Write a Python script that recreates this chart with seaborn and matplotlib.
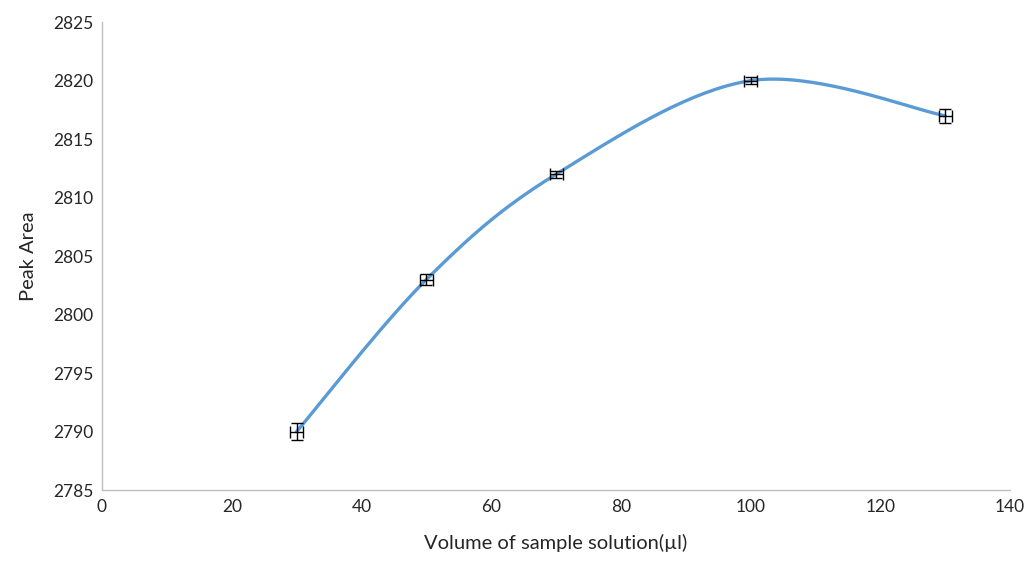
import numpy as np
import pandas as pd
import seaborn as sns
import matplotlib.pyplot as plt

# data
volume = [30, 50, 70, 100, 130]
peak_area = [2790, 2803, 2812, 2820, 2817]
y_err = [0.7, 0.5, 0.3, 0.3, 0.6]
x_err = [1.0, 1.0, 1.0, 1.0, 1.0]

df = pd.DataFrame({'volume': volume, 'peak_area': peak_area})


def excel_smooth(x, y, n=40):
    # Catmull-Rom style bezier like Excel's "smoothed line"
    x = np.asarray(x, float)
    y = np.asarray(y, float)
    px = np.concatenate([[x[0]], x, [x[-1]]])
    py = np.concatenate([[y[0]], y, [y[-1]]])
    xs, ys = [], []
    t = np.linspace(0, 1, n)
    for i in range(1, len(px) - 2):
        p0 = np.array([px[i], py[i]])
        p3 = np.array([px[i + 1], py[i + 1]])
        p1 = p0 + (np.array([px[i + 1], py[i + 1]]) - np.array([px[i - 1], py[i - 1]])) / 6
        p2 = p3 - (np.array([px[i + 2], py[i + 2]]) - np.array([px[i], py[i]])) / 6
        b = ((1 - t) ** 3)[:, None] * p0 + (3 * (1 - t) ** 2 * t)[:, None] * p1 \
            + (3 * (1 - t) * t ** 2)[:, None] * p2 + (t ** 3)[:, None] * p3
        xs.extend(b[:, 0])
        ys.extend(b[:, 1])
    return np.array(xs), np.array(ys)


sns.set_style('white')
plt.rcParams['font.family'] = ['Lato', 'DejaVu Sans']

fig = plt.figure(figsize=(10.25, 5.68), dpi=100)
ax = fig.add_axes([0.0995, 0.137, 0.886, 0.824])

sx, sy = excel_smooth(df['volume'], df['peak_area'])
sns.lineplot(x=sx, y=sy, color='#5B9BD5', linewidth=2.4, sort=False, ax=ax, zorder=2)
ax.errorbar(df['volume'], df['peak_area'], xerr=x_err, yerr=y_err, fmt='none',
            ecolor='black', elinewidth=1, capsize=4, capthick=1, zorder=3)

ax.set_xlim(0, 140)
ax.set_ylim(2785, 2825)
ax.set_xticks(range(0, 141, 20))
ax.set_yticks(range(2785, 2826, 5))
ax.tick_params(axis='both', labelsize=12.5, length=0, pad=6)
ax.set_xlabel('Volume of sample solution(µl)', fontsize=14.5, labelpad=14)
ax.set_ylabel('Peak Area', fontsize=14.5, labelpad=12)

for side in ['top', 'right']:
    ax.spines[side].set_visible(False)
for side in ['left', 'bottom']:
    ax.spines[side].set_color('#BFBFBF')
    ax.spines[side].set_linewidth(1)

fig.savefig('out.png', dpi=100)
